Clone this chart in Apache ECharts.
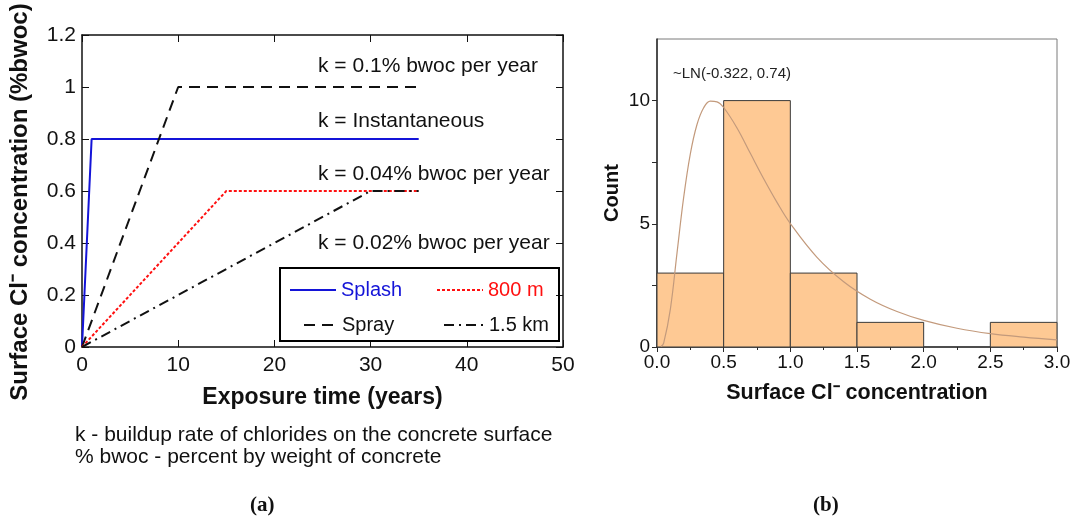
<!DOCTYPE html>
<html>
<head>
<meta charset="utf-8">
<script src="https://cdn.jsdelivr.net/npm/echarts@6/dist/echarts.min.js"></script>
<style>
  html, body { margin: 0; padding: 0; background: #fff; }
  #chart { width: 1075px; height: 519px; }
</style>
</head>
<body>
<div id="chart"></div>
<script>
// (a) Surface chloride build-up over exposure time, per exposure zone
const splashTime = [0, 1, 35];
const splashCl   = [0, 0.8, 0.8];
const sprayTime  = [0, 10, 35];
const sprayCl    = [0, 1.0, 1.0];
const m800Time   = [0, 15, 35];
const m800Cl     = [0, 0.6, 0.6];
const km15Time   = [0, 30, 35];
const km15Cl     = [0, 0.6, 0.6];

const rateLabels = [
  'k = 0.1% bwoc per year',
  'k = Instantaneous',
  'k = 0.04% bwoc per year',
  'k = 0.02% bwoc per year'
];

// (b) Histogram of surface chloride concentration with lognormal fit
const binEdges = [0, 0.5, 1.0, 1.5, 2.0, 2.5, 3.0];
const binCounts = [3, 10, 3, 1, 0, 1];
const fitX = [0.03, 0.05, 0.1, 0.15, 0.2, 0.25, 0.3, 0.35, 0.4, 0.45, 0.5, 0.6, 0.7, 0.8, 0.9, 1.0,
              1.2, 1.4, 1.6, 1.8, 2.0, 2.25, 2.5, 2.75, 3.0];
const fitY = [0.02, 0.16, 1.53, 3.81, 6.07, 7.84, 9.03, 9.71, 9.98, 9.95, 9.72, 8.89, 7.86, 6.83, 5.87, 5.01,
              3.64, 2.65, 1.94, 1.44, 1.08, 0.76, 0.54, 0.40, 0.29];
const fitLabel = '~LN(-0.322, 0.74)';

const FONT = "'Liberation Sans', Arial, sans-serif";

const zip = (xs, ys) => xs.map((x, i) => [x, ys[i]]);

const histData = binCounts.map((c, i) => [binEdges[i], binEdges[i + 1], c]);

function legendAt(name, left, top, width, color) {
  return {
    data: [name], left: left, top: top, padding: 0,
    itemWidth: width, itemHeight: 14, selectedMode: false,
    itemStyle: { opacity: 0 },
    textStyle: { fontFamily: FONT, fontSize: 20, color: color }
  };
}

const frameLine = { onZero: false, lineStyle: { color: '#111', width: 1.5 } };

const chart = echarts.init(document.getElementById('chart'), null, { renderer: 'canvas' });

chart.setOption({
  backgroundColor: '#fff',
  animation: false,
  grid: [
    { left: 82, top: 35, width: 481, height: 312 },
    { left: 657, top: 39, width: 400, height: 308, show: true, borderColor: '#7a7a7a', borderWidth: 1, backgroundColor: 'transparent' }
  ],
  xAxis: [
    {
      type: 'value', gridIndex: 0, min: 0, max: 50, interval: 10,
      name: 'Exposure time (years)', nameLocation: 'middle', nameGap: 39,
      nameTextStyle: { fontFamily: FONT, fontSize: 23, fontWeight: 'bold', color: '#111' },
      axisLine: frameLine,
      axisTick: { inside: true, length: 7, lineStyle: { color: '#111' } },
      axisLabel: { fontFamily: FONT, fontSize: 21, color: '#111', margin: 8 },
      splitLine: { show: false }
    },
    {
      type: 'value', gridIndex: 0, position: 'top', min: 0, max: 50, interval: 10,
      axisLine: frameLine,
      axisTick: { inside: true, length: 7, lineStyle: { color: '#111' } },
      axisLabel: { show: false }, splitLine: { show: false }
    },
    {
      type: 'value', gridIndex: 1, min: 0, max: 3, interval: 0.5,
      name: 'Surface Cl\u207B concentration', nameLocation: 'middle', nameGap: 35,
      nameTextStyle: { fontFamily: FONT, fontSize: 21.5, fontWeight: 'bold', color: '#111' },
      axisLine: { onZero: false, lineStyle: { color: '#2a2a2a', width: 1.5 } },
      axisTick: { length: 5, lineStyle: { color: '#2a2a2a' } },
      minorTick: { show: true, splitNumber: 2, length: 3, lineStyle: { color: '#2a2a2a' } },
      axisLabel: { fontFamily: FONT, fontSize: 19, color: '#111', margin: 6, formatter: v => v.toFixed(1) },
      splitLine: { show: false }, minorSplitLine: { show: false }
    }
  ],
  yAxis: [
    {
      type: 'value', gridIndex: 0, min: 0, max: 1.2, interval: 0.2,
      name: 'Surface Cl\u207B concentration (%bwoc)', nameLocation: 'middle', nameGap: 50, nameRotate: 90,
      nameTextStyle: { fontFamily: FONT, fontSize: 24, fontWeight: 'bold', color: '#111', padding: [0, 22, 0, 0] },
      axisLine: frameLine,
      axisTick: { inside: true, length: 7, lineStyle: { color: '#111' } },
      axisLabel: { fontFamily: FONT, fontSize: 21, color: '#111', margin: 6 },
      splitLine: { show: false }
    },
    {
      type: 'value', gridIndex: 0, position: 'right', min: 0, max: 1.2, interval: 0.2,
      axisLine: frameLine,
      axisTick: { inside: true, length: 7, lineStyle: { color: '#111' } },
      axisLabel: { show: false }, splitLine: { show: false }
    },
    {
      type: 'value', gridIndex: 1, min: 0, max: 12.5,
      name: 'Count', nameLocation: 'middle', nameGap: 35, nameRotate: 90,
      nameTextStyle: { fontFamily: FONT, fontSize: 20, fontWeight: 'bold', color: '#111' },
      axisLine: { onZero: false, lineStyle: { color: '#2a2a2a', width: 1.5 } },
      axisTick: { length: 5, customValues: [0, 2.5, 5, 7.5, 10], lineStyle: { color: '#2a2a2a' } },
      axisLabel: { fontFamily: FONT, fontSize: 19, color: '#111', margin: 7, customValues: [0, 5, 10] },
      splitLine: { show: false }
    }
  ],
  legend: [
    legendAt('Splash', 289, 280, 46, '#1414d8'),
    legendAt('800 m', 436, 280, 46, '#ff1010'),
    legendAt('Spray', 303, 315, 33, '#111'),
    legendAt('1.5 km', 443, 315, 40, '#111')
  ],
  graphic: [
    { type: 'rect', shape: { x: 280, y: 268, width: 279, height: 73 }, style: { fill: 'transparent', stroke: '#000', lineWidth: 2 }, z: 1 },
    { type: 'text', left: 318, top: 56, style: { text: rateLabels[0], font: "21px " + FONT, fill: '#111' } },
    { type: 'text', left: 318, top: 111, style: { text: rateLabels[1], font: "21px " + FONT, fill: '#111' } },
    { type: 'text', left: 318, top: 164, style: { text: rateLabels[2], font: "21px " + FONT, fill: '#111' } },
    { type: 'text', left: 318, top: 233, style: { text: rateLabels[3], font: "21px " + FONT, fill: '#111' } },
    { type: 'text', left: 75, top: 425, style: { text: 'k - buildup rate of chlorides on the concrete surface', font: "21px " + FONT, fill: '#111' } },
    { type: 'text', left: 75, top: 447, style: { text: '% bwoc - percent by weight of concrete', font: "21px " + FONT, fill: '#111' } },
    { type: 'text', left: 250, top: 495, style: { text: '(a)', font: "bold 21px 'Liberation Serif', 'Times New Roman', serif", fill: '#111' } },
    { type: 'text', left: 813, top: 495, style: { text: '(b)', font: "bold 21px 'Liberation Serif', 'Times New Roman', serif", fill: '#111' } },
    { type: 'text', left: 673, top: 66, style: { text: fitLabel, font: "15px " + FONT, fill: '#222' } }
  ],
  series: [
    {
      name: 'Splash', type: 'line', xAxisIndex: 0, yAxisIndex: 0, symbol: 'none',
      data: zip(splashTime, splashCl),
      lineStyle: { color: '#1414d8', width: 2 }, itemStyle: { color: '#1414d8', opacity: 0 }, z: 3
    },
    {
      name: 'Spray', type: 'line', xAxisIndex: 0, yAxisIndex: 0, symbol: 'none',
      data: zip(sprayTime, sprayCl),
      lineStyle: { color: '#111', width: 2, type: [11, 7] }, itemStyle: { color: '#111', opacity: 0 }
    },
    {
      name: '800 m', type: 'line', xAxisIndex: 0, yAxisIndex: 0, symbol: 'none',
      data: zip(m800Time, m800Cl),
      lineStyle: { color: '#ff1010', width: 2, type: [3, 2] }, itemStyle: { color: '#ff1010', opacity: 0 }
    },
    {
      name: '1.5 km', type: 'line', xAxisIndex: 0, yAxisIndex: 0, symbol: 'none',
      data: zip(km15Time, km15Cl),
      lineStyle: { color: '#111', width: 2, type: [10, 5, 2, 5] }, itemStyle: { color: '#111', opacity: 0 }
    },
    {
      name: 'Count', type: 'custom', xAxisIndex: 2, yAxisIndex: 2,
      data: histData,
      encode: { x: [0, 1], y: 2 },
      renderItem: function (params, api) {
        if (api.value(2) <= 0) return null;
        const lo = api.coord([api.value(0), 0]);
        const hi = api.coord([api.value(1), api.value(2)]);
        return {
          type: 'rect',
          shape: { x: lo[0], y: hi[1], width: hi[0] - lo[0], height: lo[1] - hi[1] },
          style: { fill: '#fec994', stroke: '#3a3a3a', lineWidth: 1 }
        };
      }
    },
    {
      name: 'LN fit', type: 'line', xAxisIndex: 2, yAxisIndex: 2, symbol: 'none', smooth: 0.4,
      data: zip(fitX, fitY),
      lineStyle: { color: '#c39a7c', width: 1.2 }, z: 4
    }
  ]
});
</script>
</body>
</html>
